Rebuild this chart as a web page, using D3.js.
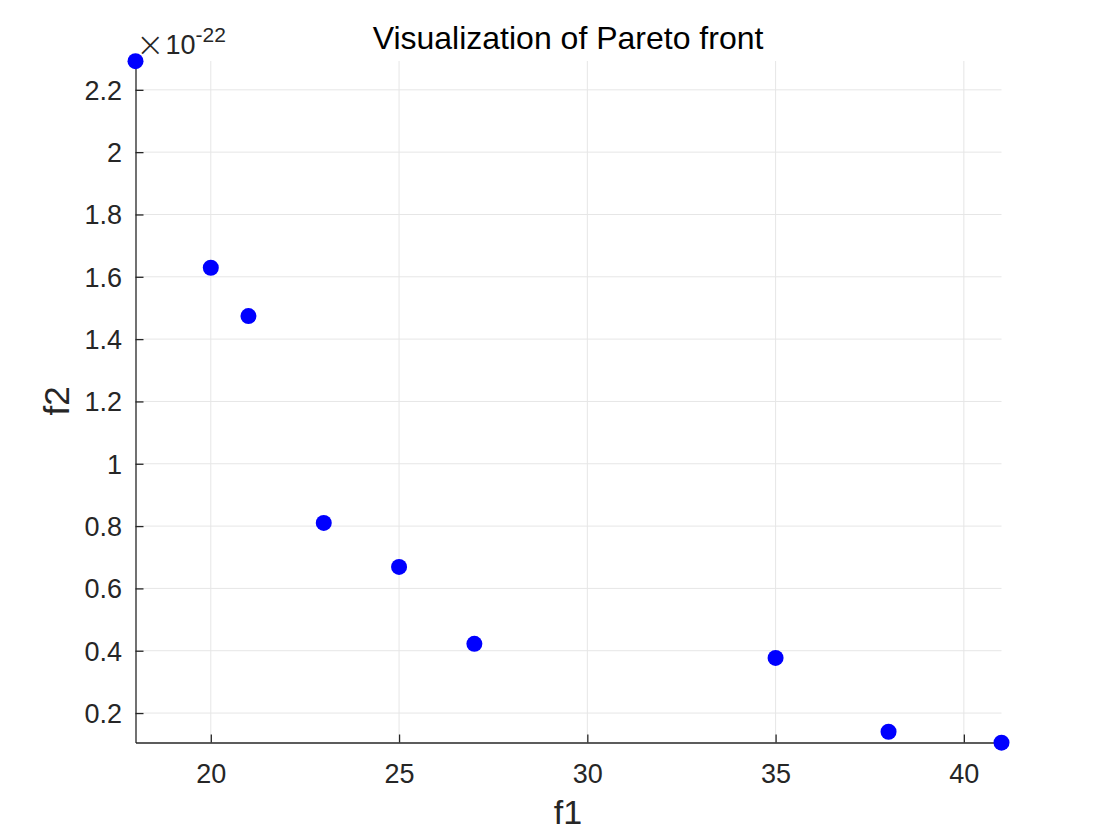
<!DOCTYPE html>
<html><head><meta charset="utf-8">
<script src="https://cdn.jsdelivr.net/npm/d3@7"></script>
<style>body{margin:0;background:#fff;} text{font-family:"Liberation Sans",Arial,sans-serif;}</style>
</head><body>
<svg id="c" width="1103" height="832"></svg>
<script>
const f1 = [18, 20, 21, 23, 25, 27, 35, 38, 41];
const f2 = [2.292, 1.629, 1.474, 0.810, 0.669, 0.422, 0.377, 0.140, 0.105];
const xTicks = [20, 25, 30, 35, 40];
const yTicks = [0.2, 0.4, 0.6, 0.8, 1, 1.2, 1.4, 1.6, 1.8, 2, 2.2];

const svg = d3.select("#c");
const L = 135.5, R = 1001.5, T = 61, B = 742.5;
const x = d3.scaleLinear().domain([18, 41]).range([L, R]);
const y = d3.scaleLinear().domain([0.1055, 2.2925]).range([B, T]);
const txt = "#262626";

// grid
const g = svg.append("g");
g.selectAll(".gx").data(xTicks).enter().append("line")
  .attr("x1", d => x(d)).attr("x2", d => x(d)).attr("y1", T).attr("y2", B)
  .attr("stroke", "#e6e6e6").attr("stroke-width", 1);
g.selectAll(".gy").data(yTicks).enter().append("line")
  .attr("y1", d => y(d)).attr("y2", d => y(d)).attr("x1", L).attr("x2", R)
  .attr("stroke", "#e6e6e6").attr("stroke-width", 1);

// axes
const xa = svg.append("g").attr("transform", `translate(0,${B})`)
  .call(d3.axisBottom(x).tickValues(xTicks).tickSizeInner(-8).tickSizeOuter(0).tickPadding(20));
const ya = svg.append("g").attr("transform", `translate(${L},0)`)
  .call(d3.axisLeft(y).tickValues(yTicks).tickSizeInner(-8).tickSizeOuter(0).tickPadding(13.5).tickFormat(d => d3.format("~g")(d)));
[xa, ya].forEach(a => {
  a.select(".domain").attr("stroke", txt).attr("stroke-width", 1.3);
  a.selectAll(".tick line").attr("stroke", txt).attr("stroke-width", 1.3);
  a.selectAll(".tick text").attr("fill", txt).style("font-size", "27px").attr("font-family", "Liberation Sans, Arial, sans-serif");
});
xa.selectAll(".tick text").attr("dy", null).attr("y", 40);
ya.selectAll(".tick text").attr("dy", "0.35em");

// points
svg.append("g").selectAll("circle").data(f1.map((d, i) => [d, f2[i]])).enter().append("circle")
  .attr("cx", d => x(d[0])).attr("cy", d => y(d[1])).attr("r", 8).attr("fill", "#0000ff");

// title and labels
svg.append("text").attr("x", 568).attr("y", 48.5).attr("text-anchor", "middle")
  .attr("fill", "#000").style("font-size", "32px").text("Visualization of Pareto front");
svg.append("text").attr("x", 568).attr("y", 823.5).attr("text-anchor", "middle")
  .attr("fill", txt).style("font-size", "34px").text("f1");
svg.append("text").attr("transform", "translate(69,401) rotate(-90)").attr("text-anchor", "middle")
  .attr("fill", txt).style("font-size", "35px").text("f2");

// exponent
const ex = svg.append("text").attr("x", 136).attr("y", 54).attr("fill", txt).style("font-size", "27px");
ex.append("tspan").style("font-size", "34px").style("font-weight", "300").attr("font-family", "DejaVu Sans, sans-serif").attr("dy", 2).text("\u00d7");
ex.append("tspan").attr("dy", -2).attr("dx", 1).text("10");
ex.append("tspan").attr("dy", -12).style("font-size", "21px").text("-22");
</script>
</body></html>
